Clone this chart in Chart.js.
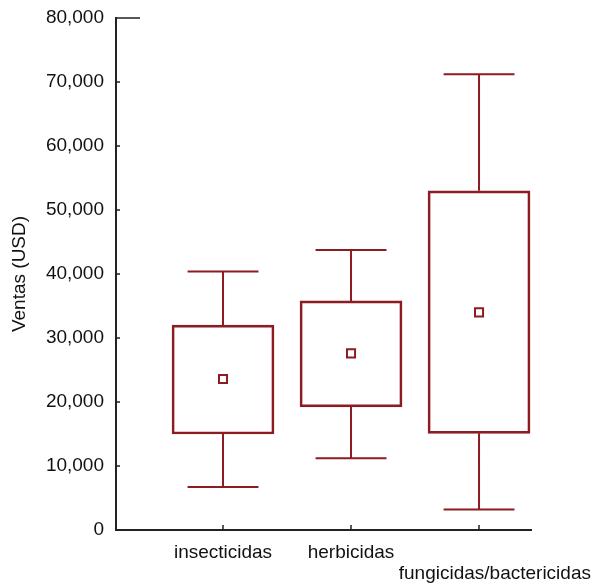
<!DOCTYPE html>
<html>
<head>
<meta charset="utf-8">
<script src="https://cdn.jsdelivr.net/npm/chart.js@4/dist/chart.umd.min.js"></script>
<style>
  body { margin: 0; background: #fff; }
  canvas { display: block; }
</style>
</head>
<body>
<canvas id="chart" width="598" height="585"></canvas>
<script>
// Data
const categories = ['insecticidas', 'herbicidas', 'fungicidas/bactericidas'];
const whiskerLow = [6700, 11200, 3200];
const boxLow = [15000, 19250, 15100];
const boxHigh = [32000, 35800, 53000];
const whiskerHigh = [40400, 43750, 71200];
const means = [23600, 27600, 34000];
const yTicks = [0, 10000, 20000, 30000, 40000, 50000, 60000, 70000, 80000];

const red = '#8c1c22';
const capHalf = 0.277; // half cap width, in category units

Chart.defaults.font.family = "'Liberation Sans', Arial, sans-serif";
Chart.defaults.font.size = 19;
Chart.defaults.color = '#111';

// whisker segments, broken with nulls
const whiskers = [];
categories.forEach((c, i) => {
  const x = i + 1;
  whiskers.push({ x, y: boxHigh[i] }, { x, y: whiskerHigh[i] }, { x, y: null });
  whiskers.push({ x: x - capHalf, y: whiskerHigh[i] }, { x: x + capHalf, y: whiskerHigh[i] }, { x, y: null });
  whiskers.push({ x, y: boxLow[i] }, { x, y: whiskerLow[i] }, { x, y: null });
  whiskers.push({ x: x - capHalf, y: whiskerLow[i] }, { x: x + capHalf, y: whiskerLow[i] }, { x, y: null });
});

// small inward tick marks
const innerTicks = {
  id: 'innerTicks',
  afterDraw(chart) {
    const { ctx, chartArea: a, scales: { x, y } } = chart;
    ctx.save();
    ctx.strokeStyle = '#222';
    ctx.lineWidth = 1.5;
    ctx.beginPath();
    y.ticks.forEach(t => {
      const py = Math.round(y.getPixelForValue(t.value));
      const len = t.value === y.max ? 24 : 4;
      ctx.moveTo(a.left, py);
      ctx.lineTo(a.left + len, py);
    });
    x.ticks.forEach(t => {
      const px = Math.round(x.getPixelForValue(t.value));
      ctx.moveTo(px, a.bottom);
      ctx.lineTo(px, a.bottom - 5);
    });
    ctx.stroke();
    ctx.restore();
  }
};

new Chart(document.getElementById('chart'), {
  type: 'bar',
  data: {
    datasets: [
      {
        type: 'scatter',
        data: categories.map((c, i) => ({ x: i + 1, y: means[i] })),
        pointStyle: 'rect',
        pointRadius: 5.7,
        pointBackgroundColor: '#fff',
        pointBorderColor: red,
        pointBorderWidth: 2,
        order: 0
      },
      {
        type: 'line',
        data: whiskers,
        borderColor: red,
        borderWidth: 2,
        pointRadius: 0,
        tension: 0,
        spanGaps: false,
        order: 1
      },
      {
        type: 'bar',
        data: categories.map((c, i) => ({ x: i + 1, y: [boxLow[i], boxHigh[i]] })),
        backgroundColor: 'rgba(255,255,255,0)',
        borderColor: red,
        borderWidth: 2,
        borderSkipped: false,
        barThickness: 102,
        order: 2
      }
    ]
  },
  options: {
    responsive: false,
    devicePixelRatio: 1,
    animation: false,
    layout: { padding: { top: 18, right: 67, bottom: 0, left: 0 } },
    plugins: { legend: { display: false }, tooltip: { enabled: false } },
    scales: {
      x: {
        type: 'linear',
        offset: false,
        min: 0.164,
        max: 3.406,
        afterBuildTicks: s => { s.ticks = categories.map((c, i) => ({ value: i + 1 })); },
        afterFit: s => { s.height = 55; s.paddingLeft = 0; s.paddingRight = 0; },
        grid: { display: false, drawTicks: false },
        border: { display: true, color: '#222', width: 2 },
        ticks: {
          padding: 12,
          maxRotation: 0,
          autoSkip: false,
          font: { size: 19, lineHeight: 1.1 },
          callback: v => v === 3 ? ['', '      ' + categories[2]] : categories[v - 1]
        }
      },
      y: {
        min: 0,
        max: 80000,
        afterBuildTicks: s => { s.ticks = yTicks.map(v => ({ value: v })); },
        afterFit: s => { s.width = 116; s.paddingTop = 0; s.paddingBottom = 0; },
        grid: { display: false, drawTicks: false },
        border: { display: true, color: '#222', width: 2 },
        ticks: {
          padding: 12,
          callback: v => v.toLocaleString('en-US')
        },
        title: {
          display: true,
          text: 'Ventas (USD)',
          font: { size: 19 },
          padding: { top: 8, bottom: 0 }
        }
      }
    }
  },
  plugins: [innerTicks]
});
</script>
</body>
</html>
